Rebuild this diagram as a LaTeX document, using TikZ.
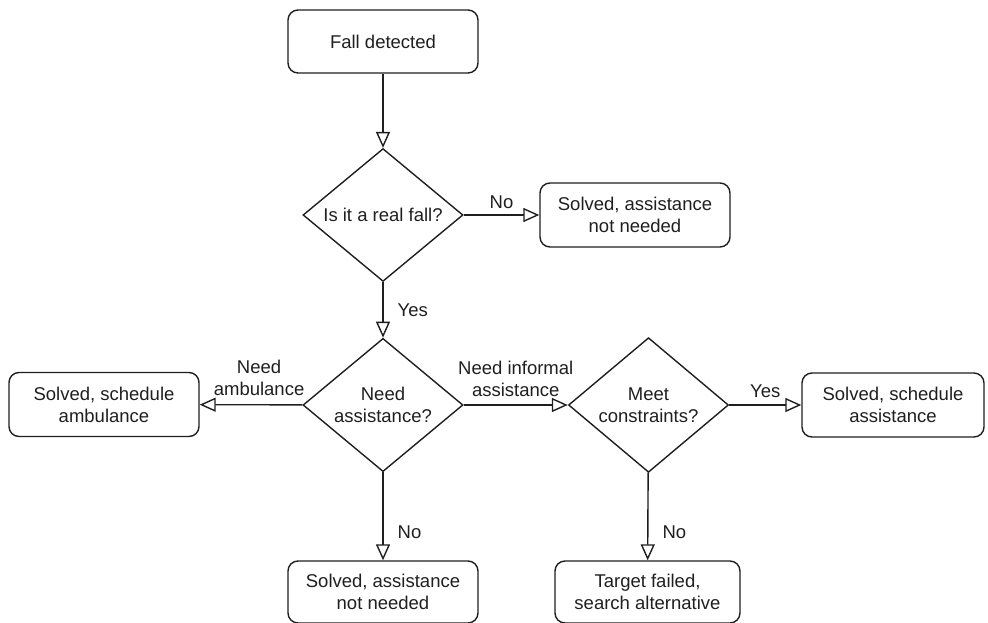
\documentclass[tikz,border=0pt]{standalone}
\usepackage{fontspec}
\setmainfont{Liberation Sans}
\usetikzlibrary{shapes.geometric,arrows.meta}
\begin{document}
\begin{tikzpicture}[x=1pt,y=-1pt,
  font=\fontsize{18.5pt}{22pt}\selectfont,
  line width=1.4pt, color=black!88,
  box/.style={draw, rounded corners=10pt, align=center, inner sep=0pt},
  decision/.style={draw, diamond, minimum width=160pt, minimum height=125pt, inner sep=0pt, align=center},
  flow/.style={-{Triangle[open, length=16pt, width=14pt, line width=1.4pt]}},
  lbl/.style={align=center, inner sep=2pt}]
\useasboundingbox (0,0) rectangle (988,623);
\node[box, minimum width=190pt, minimum height=63pt] (start) at (383,41.5) {Fall detected};
\node[decision] (q1) at (383,215) {Is it a real fall?};
\node[box, minimum width=190pt, minimum height=64pt] (noA) at (635,215) {Solved, assistance\\not needed};
\node[decision] (q2) at (383,405) {Need\\assistance?};
\node[box, minimum width=190pt, minimum height=64pt] (amb) at (104,404.5) {Solved, schedule\\ambulance};
\node[decision] (q3) at (648.5,405) {Meet\\constraints?};
\node[box, minimum width=182pt, minimum height=64pt] (sched) at (893,405) {Solved, schedule\\assistance};
\node[box, minimum width=190pt, minimum height=62pt] (noB) at (383,592) {Solved, assistance\\not needed};
\node[box, minimum width=185pt, minimum height=62pt] (fail) at (647.5,592) {Target failed,\\search alternative};

\draw[flow] (start) -- (q1);
\draw[flow] (q1) -- node[lbl, above, yshift=4pt] {No} (noA);
\draw[flow] (q1) -- node[lbl, right=12pt] {Yes} (q2);
\draw[flow] (q2) -- node[lbl, above, xshift=8pt, yshift=6pt] {Need\\ambulance} (amb);
\draw[flow] (q2) -- node[lbl, above, yshift=6pt] {Need informal\\assistance} (q3);
\draw[flow] (q3) -- node[lbl, above, yshift=5pt] {Yes} (sched);
\draw[flow] (q2) -- node[lbl, right=12pt, pos=0.68] {No} (noB);
\draw[flow] (q3) -- node[lbl, right=12pt, pos=0.68] {No} (fail);
\end{tikzpicture}
\end{document}
